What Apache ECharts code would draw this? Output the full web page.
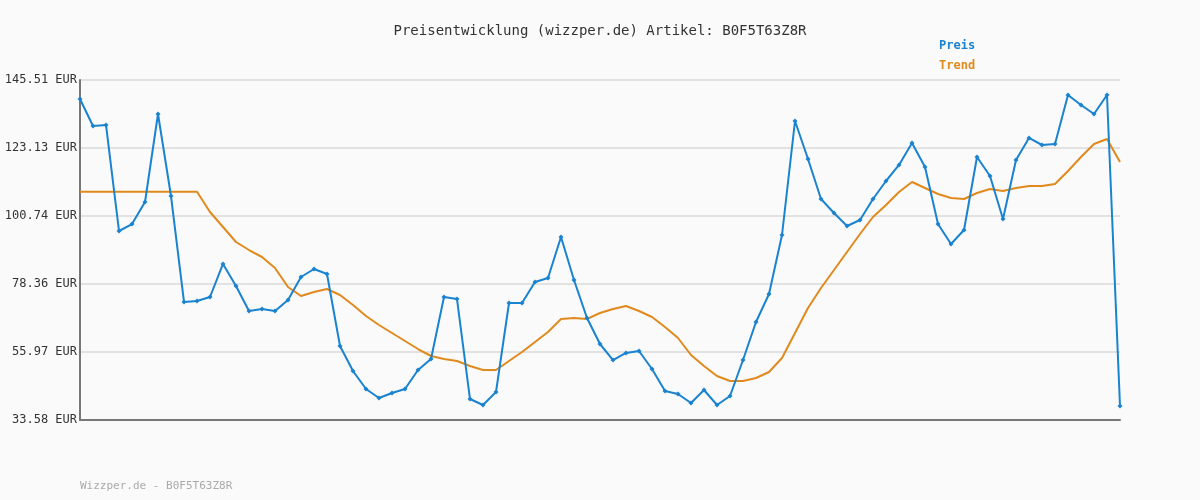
<!DOCTYPE html>
<html>
<head>
<meta charset="utf-8">
<script src="https://cdn.jsdelivr.net/npm/echarts@6/dist/echarts.min.js"></script>
<style>
  html, body { margin: 0; padding: 0; background: #fafafa; }
  #chart { width: 1200px; height: 500px; }
</style>
</head>
<body>
<div id="chart"></div>
<script>
var tickLabels = ['33.58 EUR', '55.97 EUR', '78.36 EUR', '100.74 EUR', '123.13 EUR', '145.51 EUR'];

var preis = [139.26, 130.37, 130.70, 95.80, 98.10, 105.35, 134.32, 107.32, 72.43, 72.76,
    74.07, 84.94, 77.69, 69.46, 70.12, 69.46, 73.08, 80.66, 83.29, 81.64,
    57.94, 49.71, 43.79, 40.82, 42.47, 43.79, 50.04, 53.66, 74.07, 73.41,
    40.49, 38.52, 42.80, 72.10, 72.10, 79.01, 80.33, 93.82, 79.67, 67.16,
    58.60, 53.33, 55.64, 56.30, 50.37, 43.13, 42.14, 39.18, 43.46, 38.52,
    41.48, 53.33, 65.84, 75.06, 94.48, 132.01, 119.50, 106.33, 101.73, 97.45,
    99.42, 106.33, 112.26, 117.53, 124.77, 116.87, 98.10, 91.52, 96.13, 120.16,
    113.91, 99.75, 119.17, 126.42, 124.11, 124.44, 140.57, 137.28, 134.32, 140.57,
    38.19];

var trend = [108.74, 108.74, 108.74, 108.74, 108.74, 108.74, 108.74, 108.74, 108.74, 108.74,
    102.05, 97.12, 92.18, 89.54, 87.24, 83.62, 77.36, 74.40, 75.72, 76.71,
    74.73, 71.44, 67.82, 64.85, 62.22, 59.59, 56.95, 54.65, 53.66, 53.00,
    51.36, 50.04, 50.04, 53.00, 55.97, 59.26, 62.55, 66.83, 67.16, 66.83,
    68.80, 70.12, 71.11, 69.46, 67.49, 64.20, 60.57, 54.98, 51.36, 48.06,
    46.42, 46.42, 47.41, 49.38, 53.99, 62.22, 70.45, 77.03, 82.96, 88.89,
    94.81, 100.41, 104.36, 108.64, 111.93, 109.96, 107.98, 106.66, 106.33, 108.31,
    109.63, 108.97, 109.96, 110.61, 110.61, 111.27, 115.55, 120.16, 124.44, 126.09,
    118.51];

var categories = preis.map(function(v, i) { return String(i + 1); });

var chart = echarts.init(document.getElementById('chart'));
var mono = '"DejaVu Sans Mono", monospace';

chart.setOption({
    backgroundColor: '#fafafa',
    animation: false,
    title: {
        text: 'Preisentwicklung (wizzper.de) Artikel: B0F5T63Z8R',
        left: 'center',
        top: 19,
        textStyle: { fontFamily: mono, fontSize: 14, fontWeight: 'normal', color: '#333' }
    },
    graphic: [
        { type: 'text', left: 939, top: 40, style: { text: 'Preis', fill: '#1a83d0', font: 'bold 12px ' + mono } },
        { type: 'text', left: 939, top: 60, style: { text: 'Trend', fill: '#e08a1e', font: 'bold 12px ' + mono } },
        { type: 'text', left: 80, top: 481, style: { text: 'Wizzper.de - B0F5T63Z8R', fill: '#aaa', font: '11px ' + mono } }
    ],
    grid: { left: 80, right: 80, top: 80, bottom: 80 },
    xAxis: {
        type: 'category',
        data: categories,
        boundaryGap: false,
        axisLine: { lineStyle: { color: '#777', width: 2 } },
        axisTick: { show: false },
        axisLabel: { show: false }
    },
    yAxis: [{
        type: 'value',
        min: 33.58,
        max: 145.51,
        show: false
    }, {
        type: 'value',
        min: 0,
        max: 5,
        interval: 1,
        axisLine: { show: true, lineStyle: { color: '#777', width: 2 } },
        axisTick: { show: false },
        splitLine: { lineStyle: { color: '#e2e2e2', width: 2 } },
        axisLabel: {
            fontFamily: mono, fontSize: 12, color: '#333', margin: 3,
            formatter: function(v) { return tickLabels[Math.round(v)]; }
        },
        position: 'left'
    }],
    series: [{
        name: 'Trend',
        type: 'line',
        yAxisIndex: 0,
        data: trend,
        showSymbol: false,
        lineStyle: { color: '#e08a1e', width: 2 },
        itemStyle: { color: '#e08a1e' }
    }, {
        name: 'Preis',
        type: 'line',
        yAxisIndex: 0,
        data: preis,
        symbol: 'diamond',
        symbolSize: 5,
        lineStyle: { color: '#1a83d0', width: 2 },
        itemStyle: { color: '#1a83d0' }
    }]
});
</script>
</body>
</html>
